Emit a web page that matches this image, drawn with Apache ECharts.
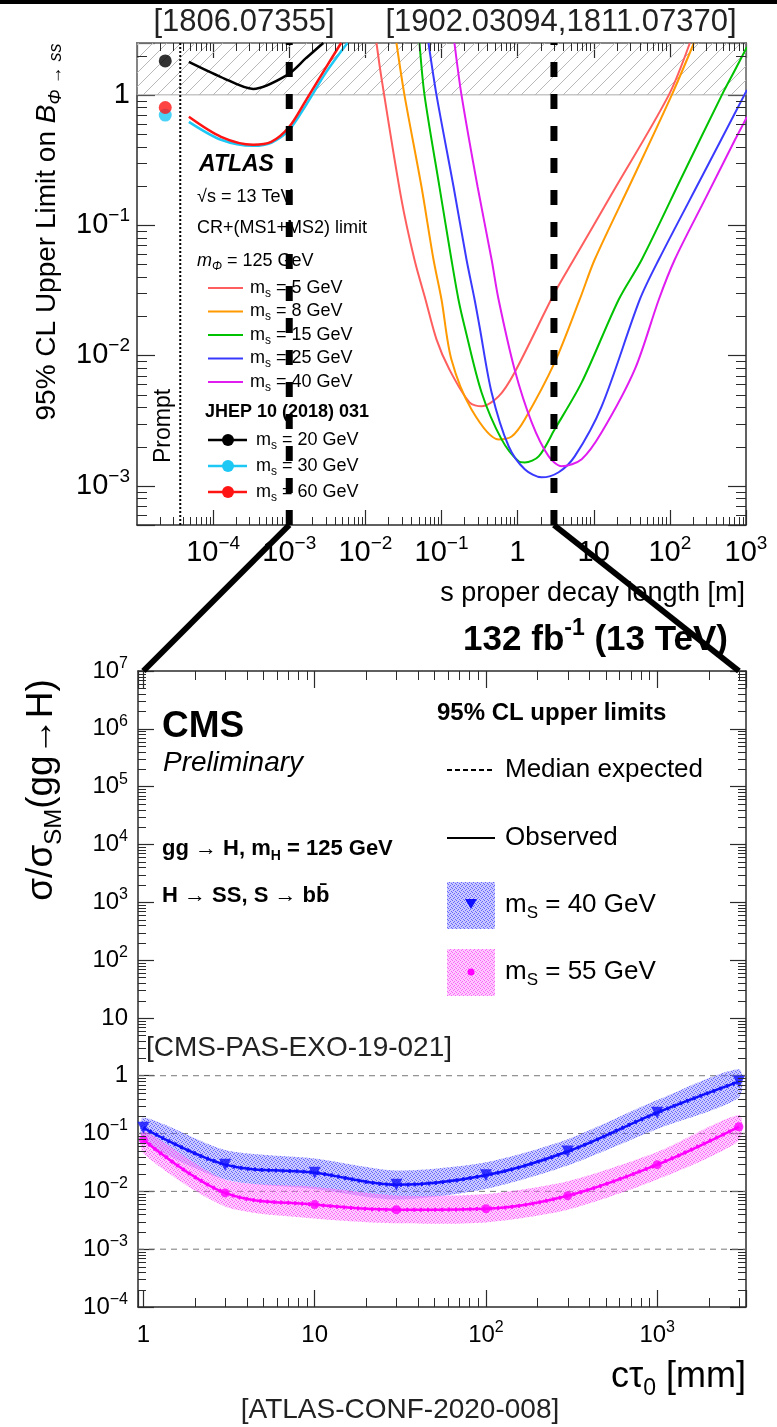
<!DOCTYPE html>
<html>
<head>
<meta charset="utf-8">
<title>ATLAS / CMS long-lived scalar limits</title>
<script src="https://cdn.jsdelivr.net/npm/echarts@6/dist/echarts.min.js"></script>
<style>
  html, body { margin: 0; padding: 0; background: #fff; }
  #chart { width: 777px; height: 1427px; }
</style>
</head>
<body>
<div id="chart"></div>
<script>
var FONT = '"Liberation Sans", Arial, Helvetica, sans-serif';

// ---- top panel (ATLAS): limit on B(Phi->ss) vs s proper decay length [m]
var topXRange = [1e-5, 1e3];
var topYRange = [5e-4, 2.5];
var excludedFrom = 1;                 // hatched band above B = 1
var cmsRangeM = [1e-3, 3];            // c*tau window of the CMS panel, in metres
var promptEdge = 3.7e-5;
var promptX = 2.35e-5;

var atlasMass = ['5', '8', '15', '25', '40'];
var atlasColor = ['#ff5e5e', '#ff9a00', '#00c200', '#3a3aff', '#e01cf0'];

var ms5X = [0.014, 0.0162, 0.0298, 0.0441, 0.0616, 0.0859, 0.127, 0.233, 0.336, 0.562, 0.913, 3.07, 5.46, 17.3, 97, 183];
var ms5Y = [2.5, 1.37, 0.157, 0.0545, 0.0269, 0.0133, 0.0078, 0.00437, 0.00407, 0.00485, 0.00741, 0.0304, 0.0545, 0.174, 1.0, 2.5];
var ms8X = [0.0256, 0.0326, 0.0546, 0.0785, 0.1, 0.135, 0.248, 0.562, 0.834, 1.24, 3.07, 6.54, 10.3, 31.6, 106, 207];
var ms8Y = [2.5, 1.0, 0.197, 0.0545, 0.0269, 0.0093, 0.00385, 0.00227, 0.00239, 0.00323, 0.00884, 0.0269, 0.0545, 0.219, 1.0, 2.5];
var ms15X = [0.0514, 0.0598, 0.094, 0.135, 0.167, 0.201, 0.336, 0.616, 1.03, 1.24, 1.89, 3.07, 6.95, 21.3, 42.8, 144, 483, 717, 1030];
var ms15Y = [2.5, 1.0, 0.197, 0.0545, 0.0269, 0.0167, 0.0052, 0.00227, 0.00154, 0.00151, 0.00168, 0.00271, 0.00621, 0.0269, 0.0545, 0.235, 1.0, 1.55, 2.33];
var ms25X = [0.0675, 0.0859, 0.144, 0.213, 0.272, 0.316, 0.455, 0.762, 1.24, 2.07, 3.46, 5.62, 12.7, 40.3, 71.6, 263, 1030];
var ms25Y = [2.5, 1.0, 0.197, 0.0545, 0.0269, 0.0167, 0.0052, 0.00201, 0.00134, 0.00116, 0.00127, 0.00168, 0.00407, 0.0269, 0.0545, 0.235, 1.09];
var ms40X = [0.148, 0.183, 0.298, 0.455, 0.562, 0.913, 1.53, 2.56, 3.79, 6.95, 12.7, 34.6, 71.6, 116, 288, 717, 1030];
var ms40Y = [2.5, 1.0, 0.197, 0.0545, 0.0269, 0.00781, 0.00307, 0.00168, 0.00141, 0.0016, 0.00257, 0.00781, 0.0269, 0.0545, 0.157, 0.452, 0.678];

// JHEP 10 (2018) 031
var jhep20X = [4.8e-5, 1.27e-4, 3.36e-4, 9.4e-4, 1.67e-3, 2.8e-3];
var jhep20Y = [1.79, 1.37, 1.11, 1.42, 1.92, 2.5];
var jhep30X = [4.8e-5, 1.27e-4, 3.36e-4, 5.8e-4, 1e-3, 1.67e-3, 3.07e-3, 5.8e-3];
var jhep30Y = [0.62, 0.452, 0.407, 0.429, 0.54, 0.84, 1.5, 2.5];
var jhep60X = [4.8e-5, 1.27e-4, 3.36e-4, 5.8e-4, 1e-3, 1.67e-3, 3.07e-3, 4.8e-3];
var jhep60Y = [0.678, 0.476, 0.414, 0.436, 0.569, 0.916, 1.64, 2.5];
var prompt20 = 1.82, prompt30 = 0.70, prompt60 = 0.80;

// ---- bottom panel (CMS): sigma/sigma_SM vs c*tau [mm]
var cmsXRange = [0.93, 3300];
var cmsYRange = [1e-4, 1e7];
var cmsGridY = [1, 0.1, 0.01, 0.001];
var cmsX = [1, 3, 10, 30, 100, 300, 1000, 3000];
var s40 = [0.126, 0.029, 0.021, 0.013, 0.019, 0.049, 0.23, 0.79];
var s40Up = [0.19, 0.052, 0.037, 0.023, 0.032, 0.08, 0.38, 1.3];
var s40Dn = [0.075, 0.016, 0.011, 0.0072, 0.011, 0.028, 0.12, 0.42];
var s55 = [0.078, 0.0094, 0.0059, 0.0048, 0.005, 0.0084, 0.029, 0.131];
var s55Up = [0.11, 0.016, 0.012, 0.0085, 0.009, 0.015, 0.048, 0.21];
var s55Dn = [0.045, 0.0055, 0.0034, 0.0028, 0.0029, 0.0048, 0.016, 0.075];

var AXIS_COLOR = '#2b2b2b';

function pairs(xs, ys) {
  return xs.map(function (x, i) { return [x, ys[i]]; });
}

function hatchPattern() {
  var c = document.createElement('canvas');
  c.width = 14; c.height = 14;
  var g = c.getContext('2d');
  g.strokeStyle = '#b8b8b8';
  g.lineWidth = 1;
  g.beginPath();
  g.moveTo(0, 14); g.lineTo(14, 0);
  g.moveTo(-2, 2); g.lineTo(2, -2);
  g.moveTo(12, 16); g.lineTo(16, 12);
  g.stroke();
  return { image: c, repeat: 'repeat' };
}

function dotPattern(bg, fg) {
  var c = document.createElement('canvas');
  c.width = 4; c.height = 4;
  var g = c.getContext('2d');
  g.fillStyle = bg; g.fillRect(0, 0, 4, 4);
  g.fillStyle = fg;
  g.fillRect(0, 0, 1, 1); g.fillRect(2, 1, 1, 1); g.fillRect(1, 2, 1, 1); g.fillRect(3, 3, 1, 1);
  return { image: c, repeat: 'repeat' };
}
var blueFill = dotPattern('rgba(125,125,255,0.42)', 'rgba(70,70,255,0.75)');
var pinkFill = dotPattern('rgba(255,125,255,0.42)', 'rgba(245,70,245,0.75)');

function powLabel(v) {
  var e = Math.log10(v), r = Math.round(e);
  if (Math.abs(e - r) > 1e-6) return '';
  if (r === 0) return '1';
  if (r === 1) return '10';
  return '10{sup|' + (r < 0 ? '\u2212' + (-r) : r) + '}';
}

function logAxis(o) {
  var ax = {
    type: 'log', logBase: 10, gridIndex: o.grid, position: o.pos,
    min: o.min, max: o.max, splitNumber: 5,
    axisLine: { show: true, onZero: false, lineStyle: { color: AXIS_COLOR, width: 1.5 } },
    axisTick: { show: true, inside: true, length: o.major, lineStyle: { color: AXIS_COLOR, width: 1.2 } },
    minorTick: { show: false },
    splitLine: { show: false },
    minorSplitLine: { show: false },
    axisPointer: { show: false },
    axisLabel: { show: false }
  };
  if (o.interval) ax.interval = o.interval;
  if (o.labels) {
    ax.axisLabel = {
      show: true, formatter: powLabel, fontSize: o.fs, lineHeight: Math.round(o.fs * 1.3),
      fontFamily: FONT, color: '#000', margin: o.margin,
      showMinLabel: o.hideMin ? false : true, showMaxLabel: true,
      rich: { sup: { fontSize: Math.round(o.fs * 0.66), lineHeight: Math.round(o.fs * 0.7), verticalAlign: 'top', fontFamily: FONT, color: '#000' } }
    };
  }
  return ax;
}

// 2..9 x 10^n positions inside a log range
function minorTickValues(lo, hi) {
  var out = [];
  for (var e = Math.floor(Math.log10(lo)); e <= Math.ceil(Math.log10(hi)); e++) {
    for (var k = 2; k <= 9; k++) {
      var v = k * Math.pow(10, e);
      if (v > lo && v < hi) out.push(v);
    }
  }
  return out;
}

// minor ticks on all four sides of a panel, placed through the panel's axes
function minorTicks(xi, yi, xr, yr, xLen, yLen) {
  var xt = minorTickValues(xr[0], xr[1]);
  var yt = minorTickValues(yr[0], yr[1]);
  return {
    type: 'custom', xAxisIndex: xi, yAxisIndex: yi, silent: true, clip: false, z: 6,
    data: [[xr[0], yr[0]]], encode: { x: 0, y: 1 },
    renderItem: function (params, api) {
      var cs = params.coordSys;
      var top = cs.y, bot = cs.y + cs.height, left = cs.x, right = cs.x + cs.width;
      var kids = [];
      var st = { stroke: AXIS_COLOR, lineWidth: 1 };
      xt.forEach(function (v) {
        var px = Math.round(api.coord([v, yr[0]])[0]) + 0.5;
        kids.push({ type: 'line', shape: { x1: px, y1: bot, x2: px, y2: bot - xLen }, style: st });
        kids.push({ type: 'line', shape: { x1: px, y1: top, x2: px, y2: top + xLen }, style: st });
      });
      yt.forEach(function (v) {
        var py = Math.round(api.coord([xr[0], v])[1]) + 0.5;
        kids.push({ type: 'line', shape: { x1: left, y1: py, x2: left + yLen, y2: py }, style: st });
        kids.push({ type: 'line', shape: { x1: right, y1: py, x2: right - yLen, y2: py }, style: st });
      });
      return { type: 'group', children: kids };
    }
  };
}

function curve(xs, ys, color, w) {
  return {
    type: 'line', xAxisIndex: 0, yAxisIndex: 0, data: pairs(xs, ys),
    smooth: 0.3, showSymbol: false, symbol: 'none',
    lineStyle: { color: color, width: w }, z: 3, silent: true, clip: true
  };
}

// straight guide line between two data points of a panel
function guide(xi, yi, p0, p1, color, w, dash, z) {
  return {
    type: 'line', xAxisIndex: xi, yAxisIndex: yi, data: [p0, p1], showSymbol: false, symbol: 'none',
    silent: true, z: z, clip: true, lineStyle: { color: color, width: w, type: dash }
  };
}

function band(lo, hi, fill) {
  return {
    type: 'custom', xAxisIndex: 2, yAxisIndex: 2, z: 2, silent: true, clip: true,
    data: [[cmsX[0], lo[0]]], encode: { x: 0, y: 1 },
    renderItem: function (params, api) {
      var pts = [], i;
      for (i = 0; i < cmsX.length; i++) pts.push(api.coord([cmsX[i], hi[i]]));
      for (i = cmsX.length - 1; i >= 0; i--) pts.push(api.coord([cmsX[i], lo[i]]));
      return { type: 'polygon', shape: { points: pts, smooth: 0.25 }, style: { fill: fill } };
    }
  };
}

function cmsLine(ys, color, dashed) {
  return {
    type: 'line', xAxisIndex: 2, yAxisIndex: 2, data: pairs(cmsX, ys),
    smooth: 0.35, showSymbol: false, symbol: 'none', silent: true, z: dashed ? 4 : 3,
    lineStyle: { color: color, width: dashed ? 4 : 2.5, type: dashed ? [2, 5] : 'solid' }
  };
}

function cmsMarks(ys, color, symbol, rot, size) {
  return {
    type: 'scatter', xAxisIndex: 2, yAxisIndex: 2, data: pairs(cmsX, ys), silent: true, z: 5,
    symbol: symbol, symbolRotate: rot, symbolSize: size, itemStyle: { color: color }
  };
}

function richFor(size, weight) {
  var s = Math.round(size * 0.65);
  return {
    sub: { fontSize: s, lineHeight: s, verticalAlign: 'bottom', fontFamily: FONT, fontWeight: weight, fill: '#000' },
    sup: { fontSize: s, lineHeight: s, verticalAlign: 'top', fontFamily: FONT, fontWeight: weight, fill: '#000' },
    i: { fontSize: size, fontStyle: 'italic', fontFamily: FONT, fontWeight: weight, fill: '#000' },
    subi: { fontSize: s, lineHeight: s, verticalAlign: 'bottom', fontStyle: 'italic', fontFamily: FONT, fill: '#000' }
  };
}

function T(x, y, text, size, o) {
  o = o || {};
  var w = o.weight || 'normal';
  return {
    type: 'text', x: x, y: y, rotation: o.rot || 0, z: 5, silent: true,
    style: {
      text: text, fontSize: size, fontFamily: FONT, fontWeight: w,
      fontStyle: o.italic ? 'italic' : 'normal', fill: o.color || '#000',
      align: o.align || 'left', verticalAlign: 'middle',
      lineHeight: Math.round(size * 1.3), rich: richFor(size, w)
    }
  };
}

function L(x1, y1, x2, y2, color, w, dash) {
  return {
    type: 'line', z: 5, silent: true,
    shape: { x1: x1, y1: y1, x2: x2, y2: y2 },
    style: { stroke: color, lineWidth: w, lineDash: dash || null }
  };
}

var graphics = [
  { type: 'rect', shape: { x: 0, y: 0, width: 777, height: 4 }, style: { fill: '#000' }, z: 5 },
  T(244, 22, '[1806.07355]', 31, { align: 'center', color: '#222' }),
  T(561, 22, '[1902.03094,1811.07370]', 31, { align: 'center', color: '#222' }),
  T(47, 232, '95% CL Upper Limit on {i|B}{subi|\u03a6 \u2192 ss}', 28, { rot: Math.PI / 2, align: 'center' }),
  T(745, 594, 's proper decay length [m]', 27, { align: 'right' }),
  T(164, 426, 'Prompt', 23, { rot: Math.PI / 2, align: 'center' }),
  T(199, 165, 'ATLAS', 23, { weight: 'bold', italic: true }),
  T(197, 197, '\u221as = 13 TeV', 18),
  T(197, 228, 'CR+(MS1+MS2) limit', 18),
  T(197, 261, '{i|m}{subi|\u03a6} = 125 GeV', 18),
  T(205, 412, 'JHEP 10 (2018) 031', 18, { weight: 'bold' }),
  // CMS panel text
  T(728, 640, '132 fb{sup|-1} (13 TeV)', 35, { align: 'right', weight: 'bold' }),
  T(42, 790, '\u03c3/\u03c3{sub|SM}(gg\u2192H)', 37, { rot: Math.PI / 2, align: 'center' }),
  T(162, 727, 'CMS', 37, { weight: 'bold' }),
  T(163, 763, 'Preliminary', 28, { italic: true }),
  T(162, 849, 'gg \u2192 H, m{sub|H} = 125 GeV', 22, { weight: 'bold' }),
  T(162, 896, 'H \u2192 SS, S \u2192 bb\u0304', 22, { weight: 'bold' }),
  T(437, 713, '95% CL upper limits', 24, { weight: 'bold' }),
  L(447, 770, 495, 770, '#000', 2, [5, 3]),
  T(505, 770, 'Median expected', 26),
  L(447, 838, 495, 838, '#000', 2),
  T(505, 838, 'Observed', 26),
  { type: 'rect', z: 5, shape: { x: 447, y: 882, width: 48, height: 47 }, style: { fill: blueFill } },
  { type: 'polygon', z: 6, shape: { points: [[465, 899], [477, 899], [471, 909]] }, style: { fill: '#1010ff' } },
  T(505, 905, 'm{sub|S} = 40 GeV', 26),
  { type: 'rect', z: 5, shape: { x: 447, y: 949, width: 48, height: 47 }, style: { fill: pinkFill } },
  { type: 'circle', z: 6, shape: { cx: 471, cy: 972, r: 3.5 }, style: { fill: '#ff00ff' } },
  T(505, 972, 'm{sub|S} = 55 GeV', 26),
  T(146, 1048, '[CMS-PAS-EXO-19-021]', 28, { color: '#222' }),
  T(746, 1377, 'c\u03c4{sub|0} [mm]', 36, { align: 'right' }),
  T(400, 1410, '[ATLAS-CONF-2020-008]', 28, { align: 'center', color: '#222' })
];

atlasMass.forEach(function (m, i) {
  var y = 288 + i * 23.5;
  graphics.push(L(208, y, 243, y, atlasColor[i], 2));
  graphics.push(T(250, y, 'm{sub|s} = ' + m + ' GeV', 18));
});
[['20', '#000'], ['30', '#1ec8f5'], ['60', '#ff1414']].forEach(function (d, i) {
  var y = 440 + i * 26;
  graphics.push(L(208, y, 247, y, d[1], 2.5));
  graphics.push({ type: 'circle', z: 6, shape: { cx: 228, cy: y, r: 6 }, style: { fill: d[1] } });
  graphics.push(T(256, y, 'm{sub|s} = ' + d[0] + ' GeV', 18));
});

var series = [
  {
    type: 'line', xAxisIndex: 0, yAxisIndex: 0, data: [], z: 1, silent: true,
    markArea: {
      silent: true, itemStyle: { color: hatchPattern(), borderColor: '#aaa', borderWidth: 1 },
      data: [[{ yAxis: excludedFrom }, { yAxis: topYRange[1] }]]
    }
  },
  minorTicks(0, 0, topXRange, topYRange, 8, 10),
  curve(ms5X, ms5Y, atlasColor[0], 2),
  curve(ms8X, ms8Y, atlasColor[1], 2),
  curve(ms15X, ms15Y, atlasColor[2], 2),
  curve(ms25X, ms25Y, atlasColor[3], 2),
  curve(ms40X, ms40Y, atlasColor[4], 2),
  curve(jhep30X, jhep30Y, '#1ec8f5', 2.5),
  curve(jhep60X, jhep60Y, '#ff1414', 2.5),
  curve(jhep20X, jhep20Y, '#000', 2.5),
  {
    type: 'scatter', xAxisIndex: 0, yAxisIndex: 0, silent: true, z: 4, symbolSize: 13,
    data: [
      { value: [promptX, prompt30], itemStyle: { color: '#1ec8f5' } },
      { value: [promptX, prompt60], itemStyle: { color: '#ff1414' } },
      { value: [promptX, prompt20], itemStyle: { color: '#000' } }
    ]
  },
  guide(0, 0, [promptEdge, topYRange[0]], [promptEdge, topYRange[1]], '#000', 2, [2, 2], 4),
  guide(0, 0, [cmsRangeM[0], topYRange[0]], [cmsRangeM[0], topYRange[1]], '#000', 7, [15, 17], 10),
  guide(0, 0, [cmsRangeM[1], topYRange[0]], [cmsRangeM[1], topYRange[1]], '#000', 7, [15, 17], 10),
  minorTicks(2, 2, cmsXRange, cmsYRange, 9, 8),
  band(s40Dn, s40Up, blueFill),
  band(s55Dn, s55Up, pinkFill),
  cmsLine(s40, '#1010ff', false),
  cmsLine(s40, '#1010ff', true),
  cmsLine(s55, '#ff00ff', false),
  cmsLine(s55, '#ff00ff', true),
  cmsMarks(s40, '#1010ff', 'triangle', 180, 12),
  cmsMarks(s55, '#ff00ff', 'circle', 0, 9)
];
cmsGridY.forEach(function (v) {
  series.push(guide(2, 2, [cmsXRange[0], v], [cmsXRange[1], v], '#777', 1, [6, 5], 1));
});

var option = {
  animation: false,
  backgroundColor: '#fff',
  textStyle: { fontFamily: FONT },
  grid: [
    { left: 137, top: 43, width: 609, height: 482, containLabel: false, outerBoundsMode: 'none' },
    { left: 138, top: 671, width: 608, height: 636, containLabel: false, outerBoundsMode: 'none' }
  ],
  xAxis: [
    logAxis({ grid: 0, pos: 'bottom', min: topXRange[0], max: topXRange[1], interval: 1, major: 15, labels: true, fs: 29, margin: 9, hideMin: true }),
    logAxis({ grid: 0, pos: 'top', min: topXRange[0], max: topXRange[1], interval: 1, major: 15 }),
    logAxis({ grid: 1, pos: 'bottom', min: cmsXRange[0], max: cmsXRange[1], major: 17, labels: true, fs: 24, margin: 13 }),
    logAxis({ grid: 1, pos: 'top', min: cmsXRange[0], max: cmsXRange[1], major: 17 })
  ],
  yAxis: [
    logAxis({ grid: 0, pos: 'left', min: topYRange[0], max: topYRange[1], major: 18, labels: true, fs: 29, margin: 7 }),
    logAxis({ grid: 0, pos: 'right', min: topYRange[0], max: topYRange[1], major: 18 }),
    logAxis({ grid: 1, pos: 'left', min: cmsYRange[0], max: cmsYRange[1], interval: 1, major: 16, labels: true, fs: 24, margin: 10 }),
    logAxis({ grid: 1, pos: 'right', min: cmsYRange[0], max: cmsYRange[1], interval: 1, major: 16 })
  ],
  series: series,
  graphic: { elements: graphics }
};

var chart = echarts.init(document.getElementById('chart'));
chart.setOption(option);

// thick zoom lines joining the CMS window on the ATLAS axis to the CMS frame
var a0 = chart.convertToPixel({ xAxisIndex: 0, yAxisIndex: 0 }, [cmsRangeM[0], topYRange[0]]);
var a1 = chart.convertToPixel({ xAxisIndex: 0, yAxisIndex: 0 }, [cmsRangeM[1], topYRange[0]]);
var b0 = chart.convertToPixel({ xAxisIndex: 2, yAxisIndex: 2 }, [cmsX[0], cmsYRange[1]]);
var b1 = chart.convertToPixel({ xAxisIndex: 2, yAxisIndex: 2 }, [cmsX[cmsX.length - 1], cmsYRange[1]]);
var links = [[a0, b0], [a1, b1]].map(function (p) {
  var el = L(p[0][0], p[0][1], p[1][0], p[1][1], '#000', 6);
  el.z = 20;
  return el;
});
option.graphic = { elements: graphics.concat(links) };
chart.setOption(option, true);
</script>
</body>
</html>
